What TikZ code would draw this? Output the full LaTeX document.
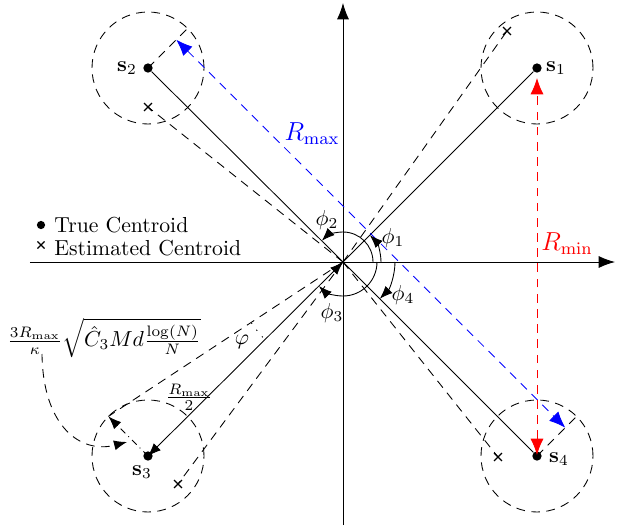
\documentclass[tikz,border=0pt]{standalone}
\usetikzlibrary{arrows.meta,shapes.misc,calc}
\begin{document}
\begin{tikzpicture}[x=0.461pt,y=0.461pt,
  dot/.style={circle,fill,inner sep=0pt,minimum size=4.3pt},
  xmark/.style={cross out,draw,inner sep=0pt,minimum size=3.1pt,line width=0.5pt},
  dsh/.style={dash pattern=on 4pt off 3pt},
  axisarrow/.style={-{Latex[length=7.5pt,width=5.5pt]}},
  phiarrow/.style={-{Latex[length=6pt,width=4.6pt]}},
  bigarrows/.style={{Latex[length=7.5pt,width=6pt]}-{Latex[length=7.5pt,width=6pt]}},
  lbl/.style={inner sep=1pt}]
\useasboundingbox (-343,-269) rectangle (285,262);

% axes
\coordinate (O) at (0,0);
\coordinate (xl) at (-313,0);
\coordinate (xr) at (272,0);
\coordinate (yb) at (0,-263);
\coordinate (yt) at (0,259);
\draw[axisarrow] (xl) -- (xr);
\draw[axisarrow] (yb) -- (yt);

% true centroids
\node[dot] (s1) at (194,194) {};
\node[dot] (s2) at (-195,194) {};
\node[dot] (s3) at (-195,-194) {};
\node[dot] (s4) at (194,-194) {};

% estimated centroids
\node[xmark] (x1) at (164,231) {};
\node[xmark] (x2) at (-195,155) {};
\node[xmark] (x3) at (-165,-222) {};
\node[xmark] (x4) at (155,-195) {};

% circles
\foreach \s in {s1,s2,s3,s4} \draw[dsh] (\s) circle[radius=56];

% solid lines
\draw (O) -- (s1);
\draw (O) -- (s2);
\draw (O) -- (s4);
\draw[{Latex[length=6pt,width=4.6pt]}-{Latex[length=6pt,width=4.6pt]}] (O) -- (s3.center);

% dashed lines to estimates
\draw[dsh] (O) -- (x1.center);
\draw[dsh] (O) -- (x2.center);
\draw[dsh] (O) -- (x3.center);
\draw[dsh] (O) -- (x4.center);

% s3 construction
\coordinate (P) at (-234.6,-154.4);
\draw[dsh] (O) -- (P);
\draw[dash pattern=on 3pt off 2pt on 0.4pt off 2pt,phiarrow] (s3.center) -- (P);
\draw[dash pattern=on 0.6pt off 3.4pt] (213.5:110) arc[start angle=213.5,end angle=225,radius=110];
\node[lbl] (phi) at (-101,-80) {$\varphi$};

% radii for R_max
\coordinate (e2) at (-153.9,235.0);
\coordinate (e4) at (235.0,-152.9);
\draw[dsh] (s2.center) -- (e2);
\draw[dsh] (s4.center) -- (e4);
\coordinate (b2) at (-166.7,222.3);
\coordinate (b4) at (222.3,-165.7);
\draw[blue,dsh,bigarrows] (b2) -- (b4);
\node[lbl,text=blue] (rmax) at (-31,128) {\large $R_{\max}$};

% R_min
\coordinate (r1) at (194,184);
\coordinate (r4) at (194,-193);
\draw[red,dsh,bigarrows] (r4) -- (r1);
\node[lbl,text=red] (rmin) at (224,18) {\large $R_{\min}$};

% angles
\draw[phiarrow] (38,0) arc[start angle=0,end angle=45,radius=38];
\draw[phiarrow] (30,0) arc[start angle=0,end angle=135,radius=30];
\draw[phiarrow] (34,0) arc[start angle=0,end angle=-135,radius=34];
\draw[phiarrow] (52,0) arc[start angle=0,end angle=-45,radius=52];
\node[lbl] (p1) at (50,24) {$\phi_1$};
\node[lbl] (p2) at (-16,42) {$\phi_2$};
\node[lbl] (p3) at (-11,-51) {$\phi_3$};
\node[lbl] (p4) at (60,-33) {$\phi_4$};

% labels of centroids
\node[lbl] (l1) at (213,194) {$\mathbf{s}_1$};
\node[lbl] (l2) at (-216,194) {$\mathbf{s}_2$};
\node[lbl] (l3) at (-201,-210) {$\mathbf{s}_3$};
\node[lbl] (l4) at (216,-197) {$\mathbf{s}_4$};

% R_max/2
\node[lbl] (half) at (-154,-135) {$\frac{R_{\max}}{2}$};

% formula and curved arrow
\node[lbl] (form) at (-239,-76) {$\frac{3R_{\max}}{\kappa}\sqrt{\hat{C}_3 M d\frac{\log(N)}{N}}$};
\coordinate (fs) at (-301,-92);
\coordinate (fe) at (-216,-180);
\draw[dsh,phiarrow] (fs) .. controls (-300,-165) and (-262,-192) .. (fe);

% legend
\node[dot,minimum size=3.8pt] (lg1) at (-302,37) {};
\node[xmark,minimum size=2.8pt] (lg2) at (-302,17) {};
\node[anchor=base west,inner sep=0pt] (lt1) at (-289,30) {True Centroid};
\node[anchor=base west,inner sep=0pt] (lt2) at (-289,7) {Estimated Centroid};
\end{tikzpicture}
\end{document}
